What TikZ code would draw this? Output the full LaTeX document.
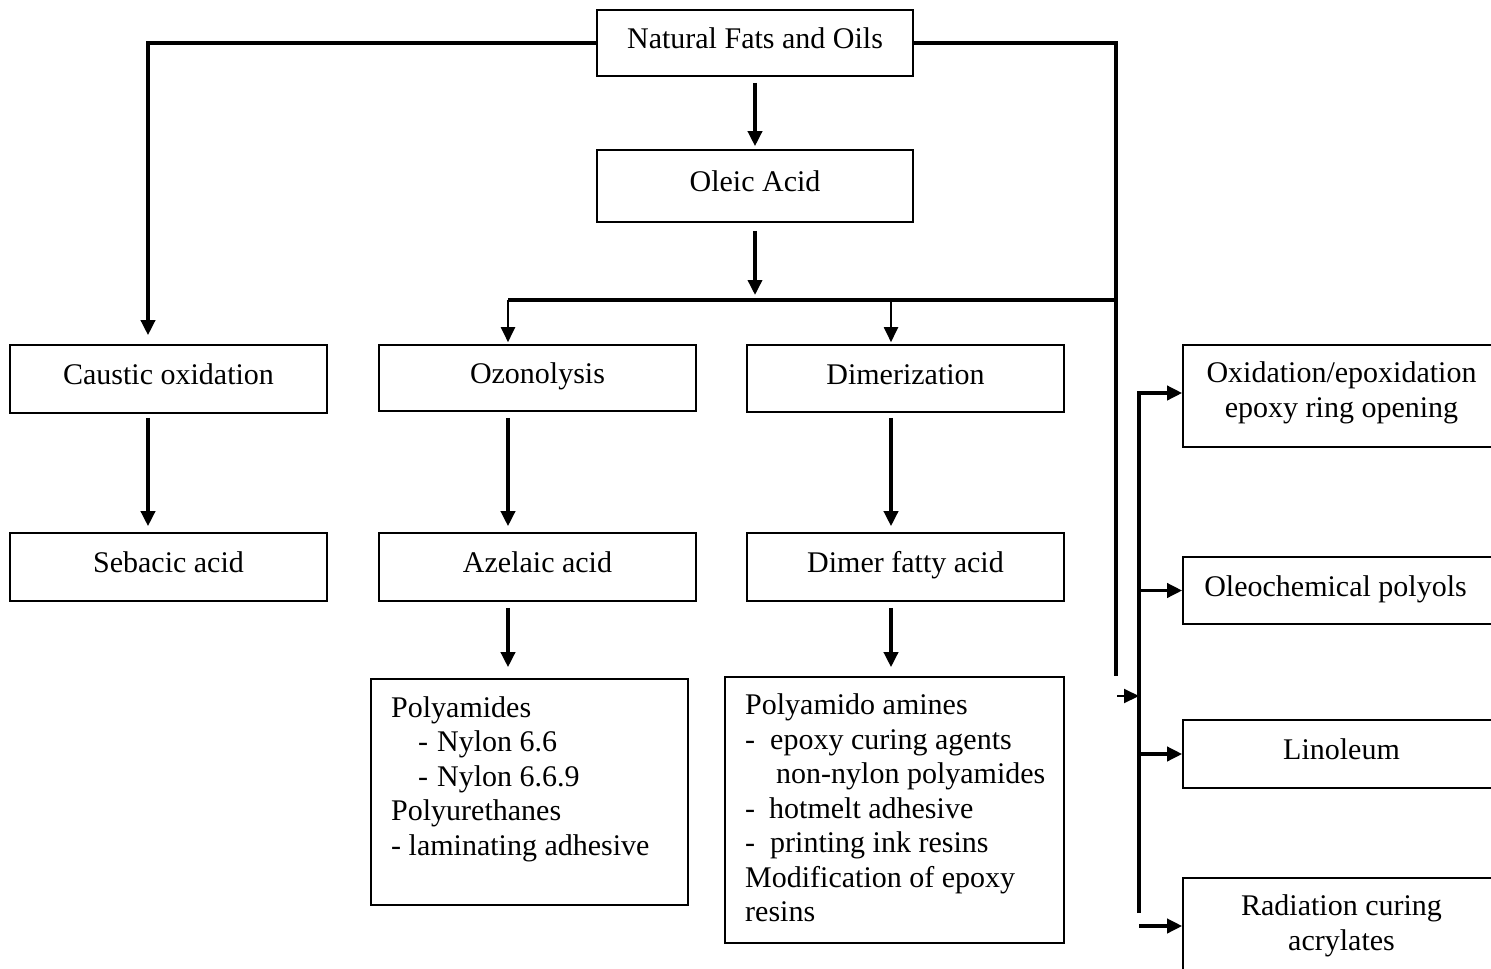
\documentclass[tikz,border=0pt]{standalone}
\usepackage{fontspec}
\setmainfont{Liberation Serif}
\usepackage{tikz}
\usetikzlibrary{arrows.meta,positioning}

\begin{document}
\begin{tikzpicture}[x=1pt,y=-1pt,
    font=\fontsize{30}{34.5}\selectfont,
    box/.style={draw,line width=1.6pt,minimum width=317pt,minimum height=68pt,inner sep=0pt},
    onebox/.style={box,text height=21pt,text depth=10pt},
    main/.style={line width=3.5pt},
    slim/.style={line width=2pt},
    tip/.style={-{Triangle[length=15pt,width=14pt]}}]
  \useasboundingbox (0,0) rectangle (1491,969);
  \node[onebox,minimum width=316pt,minimum height=66pt] (fats) at (755,43) {Natural Fats and Oils};
  \node[onebox,minimum width=316pt,minimum height=72pt] (oleic) at (755,186) {Oleic Acid};
  \node[onebox] (caustic) at (168.5,379) {Caustic oxidation};
  \node[onebox,minimum height=66pt] (ozone) at (537.5,378) {Ozonolysis};
  \node[onebox,minimum height=67pt] (dimer) at (905.5,378.5) {Dimerization};
  \node[onebox] (sebacic) at (168.5,567) {Sebacic acid};
  \node[onebox] (azelaic) at (537.5,567) {Azelaic acid};
  \node[onebox] (dimerfa) at (905.5,567) {Dimer fatty acid};
  \node[box,minimum height=226pt] (polyam) at (529.5,792) {};
  \node[anchor=north west,align=left,inner sep=0pt] (polyamtxt) at (391,696)
       {Polyamides\\
        \hspace*{27pt}-\hspace{9pt}Nylon 6.6\\
        \hspace*{27pt}-\hspace{9pt}Nylon 6.6.9\\
        Polyurethanes\\
        - laminating adhesive};
  \node[box,minimum width=339pt,minimum height=266pt] (amines) at (894.5,810) {};
  \node[anchor=north west,align=left,inner sep=0pt] (aminestxt) at (745,693.5)
       {Polyamido amines\\
        -\hspace{15pt}epoxy curing agents\\
        \hspace*{31pt}non-nylon polyamides\\
        -\hspace{14pt}hotmelt adhesive\\
        -\hspace{15pt}printing ink resins\\
        Modification of epoxy\\
        resins};
  \node[box,minimum height=102pt,align=center,text depth=13pt] (oxid) at (1341.5,396)
       {Oxidation/epoxidation\\epoxy ring opening};
  \node[onebox,minimum height=67pt] (polyols) at (1341.5,590.5) {Oleochemical polyols\hspace*{12pt}};
  \node[onebox] (lino) at (1341.5,754) {Linoleum};
  \node[box,minimum height=96pt,align=center] (radcure) at (1341.5,926)
       {Radiation curing\\acrylates};

  \coordinate (lbus) at (148,44);
  \coordinate (rend) at (1116,676);
  \coordinate (hl) at (508,300);
  \coordinate (hr) at (1116,300);
  \coordinate (hd) at (891,300);
  \coordinate (stub) at (1117,696);
  \coordinate (rtop) at (1139,393);
  \coordinate (rbot) at (1139,913);

  \draw[main,tip,shorten >=9pt] (fats.west) -| (lbus |- caustic.north);
  \draw[main] (fats.east) -| (rend);
  \draw[main,tip,shorten <=6pt,shorten >=3pt] (fats) -- (oleic);
  \draw[main,tip,shorten <=8pt,shorten >=5pt] (oleic) -- (oleic |- hl);
  \draw[main] (hl) -- (hr);
  \draw[slim,tip,shorten >=2pt] (hl) -- (hl |- ozone.north);
  \draw[slim,tip,shorten >=2pt] (hd) -- (hd |- dimer.north);
  \draw[main,tip,shorten <=4pt,shorten >=6pt] (lbus |- caustic.south) -- (lbus |- sebacic.north);
  \draw[main,tip,shorten <=6pt,shorten >=6pt] (hl |- ozone.south) -- (hl |- azelaic.north);
  \draw[main,tip,shorten <=5pt,shorten >=6pt] (hd |- dimer.south) -- (hd |- dimerfa.north);
  \draw[main,tip,shorten <=6pt,shorten >=11pt] (hl |- azelaic.south) -- (hl |- polyam.north);
  \draw[main,tip,shorten <=6pt,shorten >=9pt] (hd |- dimerfa.south) -- (hd |- amines.north);
  \draw[main,tip] (rbot) -- (rtop) -- (rtop -| oxid.west);
  \draw[main,tip] (polyols.west -| rtop) -- (polyols.west);
  \draw[main,tip] (lino.west -| rtop) -- (lino.west);
  \draw[main,tip] (radcure.west -| rtop) -- (radcure.west);
  \draw[slim,tip] (stub) -- (stub -| rtop);
\end{tikzpicture}
\end{document}
